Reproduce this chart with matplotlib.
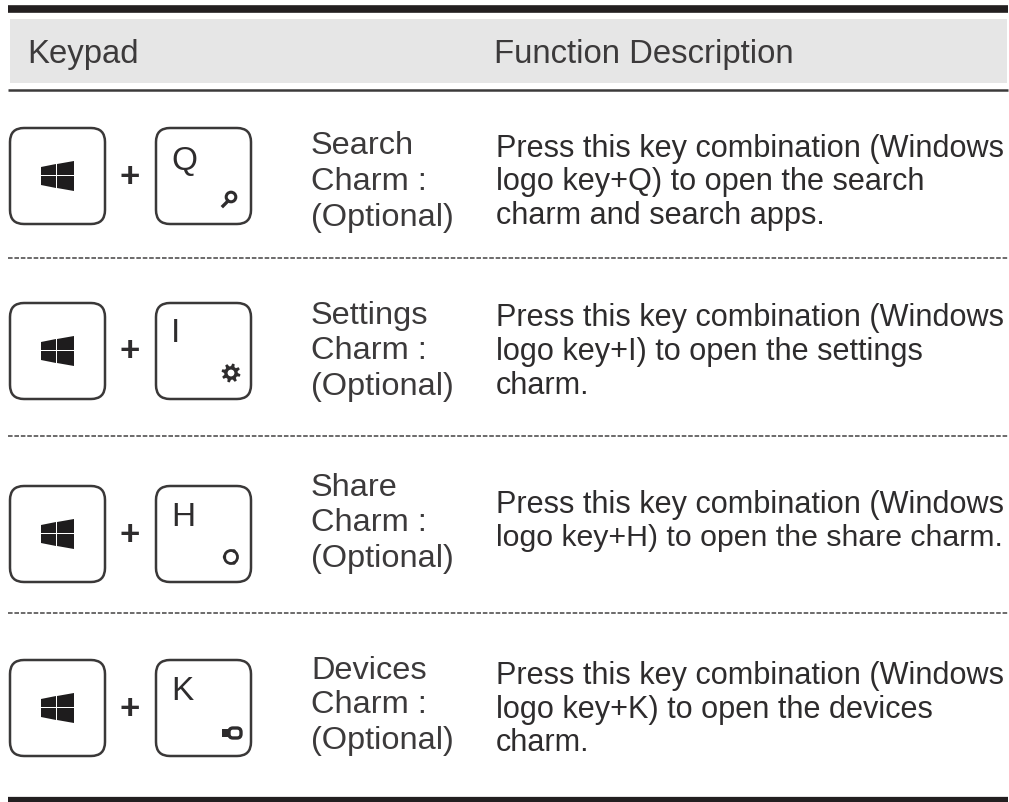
import numpy as np
import matplotlib
matplotlib.use("Agg")
import matplotlib.pyplot as plt
from matplotlib.patches import FancyBboxPatch, Rectangle, Circle, Polygon

plt.rcParams['font.family'] = ['Liberation Sans', 'DejaVu Sans']

headers = ["Keypad", "Function Description"]
key_letters = ["Q", "I", "H", "K"]
charm_names = ["Search\nCharm :\n(Optional)", "Settings\nCharm :\n(Optional)",
               "Share\nCharm :\n(Optional)", "Devices\nCharm :\n(Optional)"]
descriptions = [
    ["Press this key combination (Windows", "logo key+Q) to open the search", "charm and search apps."],
    ["Press this key combination (Windows", "logo key+I) to open the settings", "charm."],
    ["Press this key combination (Windows", "logo key+H) to open the share charm."],
    ["Press this key combination (Windows", "logo key+K) to open the devices", "charm."],
]
row_tops = [128, 303, 486, 660]
letter_offs = [33, 31, 31, 31]
name_ys = [[146, 182, 218], [316, 351, 387], [488, 523, 559], [671, 705, 741]]
desc_ys = [[149, 182, 216], [318, 352, 386], [505, 538], [676, 710, 743]]
dash_ys = [258, 436, 613]
txt = "#2e2c2d"
edge = "#3a3838"

fig = plt.figure(figsize=(10.09, 8.02), dpi=100)
ax = fig.add_axes([0, 0, 1, 1])
ax.set_xlim(0, 1009)
ax.set_ylim(802, 0)
ax.axis("off")


def draw_key(x, y, w=95, h=96):
    ax.add_patch(FancyBboxPatch((x + 14, y + 14), w - 28, h - 28, boxstyle="round,pad=14,rounding_size=14",
                                fc="white", ec=edge, lw=1.8))


def draw_logo(cx, cy):
    # four panes of the windows key, thin gap between them
    ax.add_patch(Polygon([(cx - 16, cy - 9), (cx - 1, cy - 12), (cx - 1, cy - 1), (cx - 16, cy - 1)], fc="#1e1c1d", ec="none"))
    ax.add_patch(Polygon([(cx, cy - 12), (cx + 17, cy - 15), (cx + 17, cy - 1), (cx, cy - 1)], fc="#1e1c1d", ec="none"))
    ax.add_patch(Polygon([(cx - 16, cy), (cx - 1, cy), (cx - 1, cy + 12), (cx - 16, cy + 9)], fc="#1e1c1d", ec="none"))
    ax.add_patch(Polygon([(cx, cy), (cx + 17, cy), (cx + 17, cy + 15), (cx, cy + 12)], fc="#1e1c1d", ec="none"))


def draw_search(cx, cy):
    ax.add_patch(Circle((cx + 2, cy - 3), 4.8, fc="white", ec=txt, lw=2.2))
    ax.plot([cx - 6, cx - 1], [cy + 6, cy + 1], color=txt, lw=2.4)


def draw_gear(cx, cy):
    ang = np.linspace(0, 2 * np.pi, 48, endpoint=False) + np.pi / 24
    rad = np.where((np.arange(48) // 3) % 2 == 0, 9.5, 6.8)
    ax.add_patch(Polygon(np.column_stack([cx + rad * np.cos(ang), cy + rad * np.sin(ang)]), fc=txt, ec="none"))
    ax.add_patch(Circle((cx, cy), 3.4, fc="white", ec="none"))


def draw_share(cx, cy):
    ax.add_patch(Circle((cx, cy), 6.5, fc="white", ec=txt, lw=2.0))
    for dx, dy in [(-6.5, 0), (3, -6), (3, 6)]:
        ax.add_patch(Circle((cx + dx, cy + dy), 1.7, fc=txt, ec="none"))


def draw_devices(cx, cy):
    ax.add_patch(FancyBboxPatch((cx - 2, cy - 3), 8, 6, boxstyle="round,pad=2,rounding_size=4", fc="white", ec=txt, lw=2.4))
    ax.add_patch(Rectangle((cx - 11, cy - 4), 8, 8, fc=txt, ec="none"))


icon_funcs = [draw_search, draw_gear, draw_share, draw_devices]
icon_offs = [(229, 72), (231, 70), (231, 71), (233, 73)]

# header band and rules
ax.add_patch(Rectangle((10, 19), 997, 64, fc="#e6e6e6", ec="none"))
ax.plot([8, 1008], [9, 9], color="#231f20", lw=5.5, solid_capstyle="butt")
ax.plot([8, 1008], [90, 90], color="#3c3a3b", lw=1.8, solid_capstyle="butt")
ax.plot([8, 1008], [800, 800], color="#231f20", lw=4.5, solid_capstyle="butt")
for y in dash_ys:
    ax.plot([8, 1008], [y, y], color="#444243", lw=1.1, dashes=(3, 1.2))

ax.text(27, 54, headers[0], fontsize=23.7, color="#3c3a3b", va="center", ha="left")
ax.text(494, 55, headers[1], fontsize=23.7, color="#3c3a3b", va="center", ha="left")

for i in range(4):
    top = row_tops[i]
    draw_key(10, top)
    draw_key(156, top)
    draw_logo(57, top + 48)
    ax.text(130, top + 49, "+", fontsize=25, color=txt, ha="center", va="center", fontweight="bold")
    ax.text(171, top + letter_offs[i], key_letters[i], fontsize=24, color=txt, ha="left", va="center")
    icon_funcs[i](icon_offs[i][0], top + icon_offs[i][1])
    for line, y in zip(charm_names[i].split("\n"), name_ys[i]):
        ax.text(311, y, line, fontsize=23.4, color="#3c3a3b", ha="left", va="center")
    for line, y in zip(descriptions[i], desc_ys[i]):
        # the H row's second line runs a little tighter than the others
        size = 21.8 if "share charm" in line else 22.1
        ax.text(496, y, line, fontsize=size, color=txt, ha="left", va="center")

fig.savefig("out.png", dpi=100)
